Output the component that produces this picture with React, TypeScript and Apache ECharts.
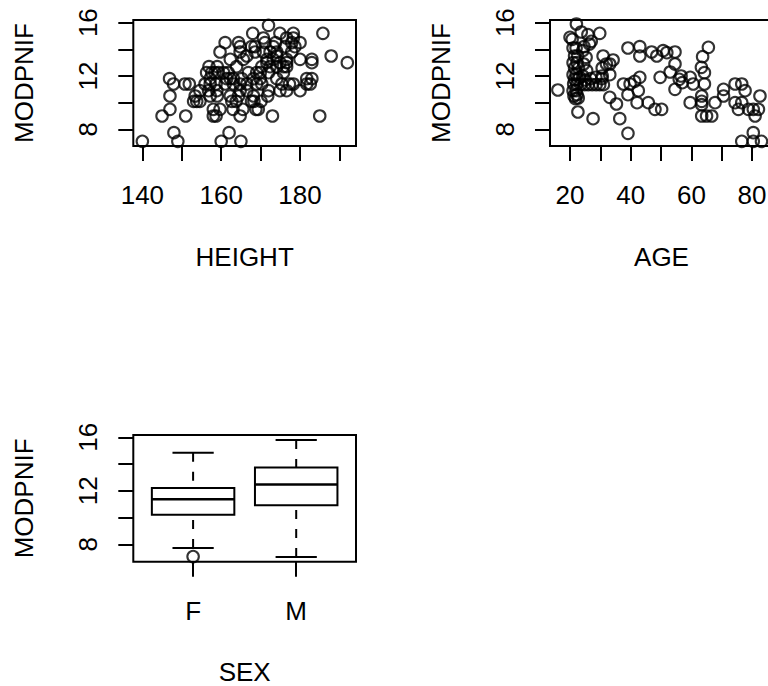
import React, { useEffect, useRef } from "react";
import * as echarts from "echarts";

// ---- Data ----
const heightVsModpnif: [number, number][] = [
  [140.0, 7.1], [149.0, 7.1], [160.0, 7.1], [165.0, 7.1],
  [148.0, 7.75], [162.0, 7.75],
  [145.0, 9.0], [151.0, 9.0], [158.0, 9.0], [158.7, 9.0], [164.8, 9.0], [173.0, 9.0], [185.0, 9.0],
  [147.0, 9.5], [158.0, 9.5], [159.7, 9.5], [163.0, 9.5], [165.5, 9.5], [168.8, 9.5], [169.4, 9.5],
  [153.0, 10.1], [153.8, 10.1], [154.6, 10.1], [162.7, 10.1], [163.8, 10.1], [167.7, 10.1], [168.3, 10.1], [170.1, 10.1],
  [147.0, 10.5], [153.4, 10.5], [157.2, 10.5], [159.0, 10.5], [162.3, 10.5], [164.4, 10.5], [168.2, 10.5], [171.8, 10.5],
  [154.6, 10.9], [156.8, 10.9], [158.9, 10.9], [164.8, 10.9], [166.5, 10.9], [172.0, 10.9], [174.9, 10.9], [176.6, 10.9], [180.0, 10.9],
  [147.9, 11.4], [150.8, 11.4], [151.9, 11.4], [155.9, 11.4], [157.2, 11.4], [158.7, 11.4], [161.0, 11.4], [163.1, 11.4], [164.8, 11.4],
  [166.5, 11.4], [169.0, 11.4], [170.3, 11.4], [175.4, 11.4], [177.3, 11.4], [178.3, 11.4], [181.7, 11.4], [182.6, 11.4],
  [146.9, 11.8], [157.2, 11.8], [161.4, 11.8], [162.3, 11.8], [163.1, 11.8], [165.2, 11.8], [168.2, 11.8], [169.9, 11.8], [174.1, 11.8], [181.7, 11.8], [183.0, 11.8],
  [156.3, 12.25], [157.6, 12.25], [158.4, 12.25], [159.3, 12.25], [160.6, 12.25], [161.8, 12.25], [166.9, 12.25], [169.0, 12.25], [169.9, 12.25], [172.0, 12.25], [175.8, 12.25],
  [156.9, 12.7], [159.0, 12.7], [163.9, 12.7], [170.3, 12.7], [172.4, 12.7], [174.1, 12.7], [175.8, 12.7], [176.6, 12.7],
  [171.6, 13.0], [174.9, 13.0], [176.6, 13.0], [183.0, 13.0], [192.0, 13.0],
  [162.3, 13.25], [165.6, 13.25], [171.6, 13.25], [173.2, 13.25], [176.6, 13.25], [180.0, 13.25], [183.0, 13.25],
  [166.5, 13.5], [174.1, 13.5], [187.9, 13.5],
  [159.7, 13.8], [164.8, 13.8], [168.6, 13.8], [170.7, 13.8], [172.4, 13.8], [174.1, 13.8], [177.9, 13.8],
  [164.8, 14.2], [167.7, 14.2], [168.6, 14.2], [173.2, 14.2], [176.2, 14.2], [178.7, 14.2],
  [161.0, 14.5], [164.4, 14.5], [171.1, 14.5], [173.8, 14.5], [177.9, 14.5], [180.0, 14.5],
  [170.7, 14.85], [176.6, 14.85], [178.3, 14.85],
  [168.0, 15.2], [174.9, 15.2], [178.3, 15.2], [185.8, 15.2],
  [172.0, 15.8],
];

const ageVsModpnif: [number, number][] = [
  [16.0, 10.95],
  [22.1, 15.9], [20.0, 14.9], [20.7, 14.75], [23.7, 15.3], [25.9, 15.1], [27.0, 14.6], [29.8, 15.2], [24.6, 14.2], [26.4, 14.4],
  [21.0, 14.1], [22.0, 14.1], [21.5, 13.5], [22.5, 13.5], [21.0, 13.0], [22.3, 13.0], [21.5, 12.6], [22.8, 12.6],
  [21.0, 12.1], [22.0, 12.1], [21.5, 11.75], [22.5, 11.75], [21.2, 11.4], [22.2, 11.4], [21.0, 10.9], [22.0, 10.9],
  [21.3, 10.5], [22.3, 10.6], [21.8, 10.3], [22.7, 10.35],
  [24.2, 13.9], [25.3, 13.4], [24.5, 12.9], [25.5, 12.4], [24.2, 12.0], [25.0, 11.7],
  [23.5, 11.35], [24.8, 11.35], [26.0, 11.35], [27.3, 11.35], [28.6, 11.35], [29.8, 11.35], [31.0, 11.35],
  [23.2, 11.9], [26.8, 11.8], [28.5, 11.9], [30.5, 11.8],
  [30.9, 13.5], [30.6, 12.6], [32.0, 12.9], [33.1, 12.9], [34.2, 13.2], [33.1, 12.1], [30.6, 12.0],
  [33.1, 10.4], [35.3, 9.9], [22.6, 9.3], [27.6, 8.8], [36.4, 8.8], [39.1, 7.7], [39.1, 14.1], [43.0, 14.2], [43.0, 13.5],
  [37.6, 11.4], [39.8, 11.4], [41.3, 11.6], [43.0, 11.9], [42.5, 10.9], [39.1, 10.6], [42.1, 10.0],
  [46.9, 13.8], [48.6, 13.5], [50.7, 13.9], [51.9, 13.75], [54.6, 13.8], [54.6, 12.9], [49.7, 11.9], [53.0, 12.3],
  [56.0, 11.75], [57.0, 11.5], [56.6, 12.0], [54.6, 11.0], [59.6, 11.9], [60.6, 11.4], [45.8, 10.0], [48.0, 9.5], [50.2, 9.5],
  [65.6, 14.15], [63.7, 13.45], [63.3, 12.65], [64.3, 12.25], [64.3, 11.4], [59.6, 10.0], [63.4, 10.5], [63.4, 10.1],
  [63.4, 9.85], [67.8, 10.0], [63.4, 9.0], [65.0, 9.0], [66.7, 9.0], [70.6, 11.0], [70.6, 10.5], [74.4, 11.4],
  [76.6, 11.4], [77.7, 10.9], [74.4, 10.0], [75.5, 9.5], [78.8, 9.5], [80.4, 9.5], [82.1, 9.5], [81.0, 9.0],
  [82.6, 10.5], [76.6, 10.0], [80.4, 7.75], [76.6, 7.1], [80.4, 7.1], [83.1, 7.1],
];

const sexCategories = ["F", "M"];
// [position, lower whisker, Q1, median, Q3, upper whisker]
const sexBoxStats: number[][] = [
  [1, 7.73, 10.2, 11.37, 12.2, 14.85],
  [2, 7.05, 10.92, 12.47, 13.75, 15.8],
];
const sexOutliers: [number, number][] = [[1, 7.08]];

const modpnifTicks = [8, 10, 12, 14, 16];
const modpnifLabels = [8, 12, 16];
const heightTicks = [140, 150, 160, 170, 180, 190];
const heightLabels = [140, 160, 180];
const ageTicks = [20, 30, 40, 50, 60, 70, 80];
const ageLabels = [20, 40, 60, 80];
const sexTicks = [1, 2];

const FONT = "'Liberation Sans', Arial, Helvetica, sans-serif";
const FS = 26;

function xAxisCfg(gridIndex: number, name: string, min: number, max: number, ticks: number[], labels: number[], fmt?: (v: number) => string) {
  return {
    type: "value",
    gridIndex,
    min,
    max,
    name,
    nameLocation: "middle",
    nameGap: 98,
    nameTextStyle: { fontSize: FS, color: "#000", fontFamily: FONT },
    axisLine: { show: false },
    splitLine: { show: false },
    axisTick: { show: true, inside: false, length: 15, customValues: ticks, lineStyle: { color: "#000", width: 2 } },
    axisLabel: {
      show: true,
      customValues: labels,
      margin: 36,
      fontSize: FS,
      color: "#000",
      fontFamily: FONT,
      formatter: fmt ? (v: number) => fmt(v) : (v: number) => String(v),
    },
  };
}

function yAxisCfg(gridIndex: number, min: number, max: number) {
  return {
    type: "value",
    gridIndex,
    min,
    max,
    name: "MODPNIF",
    nameLocation: "middle",
    nameGap: 96,
    nameRotate: 90,
    nameTextStyle: { fontSize: FS, color: "#000", fontFamily: FONT },
    axisLine: { show: false },
    splitLine: { show: false },
    axisTick: { show: true, inside: false, length: 15, customValues: modpnifTicks, lineStyle: { color: "#000", width: 2 } },
    axisLabel: {
      show: true,
      customValues: modpnifLabels,
      rotate: 90,
      margin: 32,
      fontSize: FS,
      color: "#000",
      fontFamily: FONT,
      formatter: (v: number) => String(v),
    },
  };
}

const gridStyle = { show: true, borderColor: "#000", borderWidth: 2, backgroundColor: "transparent", containLabel: false };

const pointStyle = { color: "transparent", borderColor: "#000", borderWidth: 2.1 };

export default function App() {
  const ref = useRef<HTMLDivElement>(null);
  useEffect(() => {
    if (!ref.current) return;
    const chart = echarts.init(ref.current, null, { renderer: "svg" });
    const option: any = {
      animation: false,
      backgroundColor: "#fff",
      textStyle: { fontFamily: FONT },
      grid: [
        { ...gridStyle, left: 133.3, top: 20, width: 222.7, height: 126 },
        { ...gridStyle, left: 550, top: 20, width: 223, height: 126 },
        { ...gridStyle, left: 133.3, top: 435, width: 222.7, height: 126.7 },
      ],
      xAxis: [
        xAxisCfg(0, "HEIGHT", 137.7, 194.2, heightTicks, heightLabels),
        xAxisCfg(1, "AGE", 13.4, 86.9, ageTicks, ageLabels),
        { ...xAxisCfg(2, "SEX", 0.42, 2.58, sexTicks, sexTicks, (v: number) => sexCategories[Math.round(v) - 1] ?? ""), nameGap: 97 },
      ],
      yAxis: [yAxisCfg(0, 6.75, 16.2), yAxisCfg(1, 6.75, 16.2), yAxisCfg(2, 6.7, 16.17)],
      series: [
        {
          type: "scatter",
          xAxisIndex: 0,
          yAxisIndex: 0,
          data: heightVsModpnif,
          symbol: "circle",
          symbolSize: 11.5,
          itemStyle: pointStyle,
          silent: true,
        },
        {
          type: "scatter",
          xAxisIndex: 1,
          yAxisIndex: 1,
          data: ageVsModpnif,
          symbol: "circle",
          symbolSize: 11.5,
          itemStyle: pointStyle,
          silent: true,
        },
        {
          type: "custom",
          xAxisIndex: 2,
          yAxisIndex: 2,
          data: sexBoxStats,
          encode: { x: 0, y: [1, 2, 3, 4, 5] },
          silent: true,
          renderItem: (params: any, api: any) => {
            const x = api.value(0);
            const lo = api.value(1);
            const q1 = api.value(2);
            const med = api.value(3);
            const q3 = api.value(4);
            const hi = api.value(5);
            const boxHalf = 0.4;
            const stapleHalf = 0.2;
            const tl = api.coord([x - boxHalf, q3]);
            const br = api.coord([x + boxHalf, q1]);
            const mL = api.coord([x - boxHalf, med]);
            const mR = api.coord([x + boxHalf, med]);
            const c = api.coord([x, 10])[0];
            const yHi = api.coord([x, hi])[1];
            const yLo = api.coord([x, lo])[1];
            const yQ1 = br[1];
            const yQ3 = tl[1];
            const sL = api.coord([x - stapleHalf, hi])[0];
            const sR = api.coord([x + stapleHalf, hi])[0];
            const solid = { stroke: "#000", lineWidth: 2, fill: null };
            const dashed = { stroke: "#000", lineWidth: 2, lineDash: [9, 10], fill: null };
            return {
              type: "group",
              children: [
                { type: "line", shape: { x1: c, y1: yHi, x2: c, y2: yQ3 }, style: dashed },
                { type: "line", shape: { x1: c, y1: yLo, x2: c, y2: yQ1 }, style: dashed },
                { type: "line", shape: { x1: sL, y1: yHi, x2: sR, y2: yHi }, style: solid },
                { type: "line", shape: { x1: sL, y1: yLo, x2: sR, y2: yLo }, style: solid },
                {
                  type: "rect",
                  shape: { x: tl[0], y: tl[1], width: br[0] - tl[0], height: br[1] - tl[1] },
                  style: { stroke: "#000", lineWidth: 2, fill: "#fff" },
                },
                { type: "line", shape: { x1: mL[0], y1: mL[1], x2: mR[0], y2: mR[1] }, style: { stroke: "#000", lineWidth: 2.5 } },
              ],
            };
          },
        },
        {
          type: "scatter",
          xAxisIndex: 2,
          yAxisIndex: 2,
          data: sexOutliers,
          symbol: "circle",
          symbolSize: 11.5,
          itemStyle: pointStyle,
          silent: true,
        },
      ],
    };
    chart.setOption(option);
    return () => chart.dispose();
  }, []);
  return (
    <div style={{ position: "absolute", left: 0, top: 0, width: 768, height: 686, overflow: "hidden", background: "#fff" }}>
      <div ref={ref} style={{ position: "absolute", left: 0, top: 0, width: 800, height: 686 }} />
    </div>
  );
}
